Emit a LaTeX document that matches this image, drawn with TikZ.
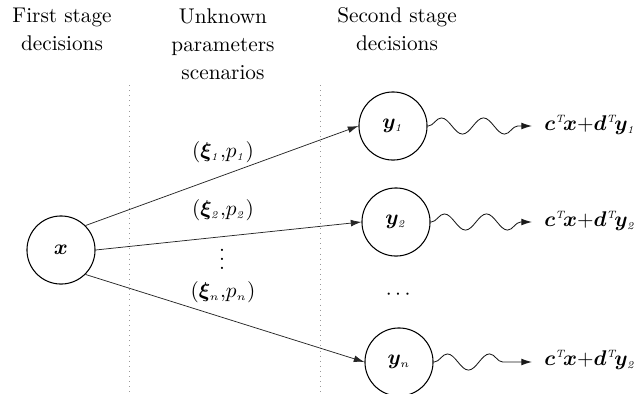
\documentclass[tikz,border=0pt]{standalone}
\usepackage{amsmath,bm}
\usetikzlibrary{decorations.pathmorphing,arrows.meta}
\newcommand{\outc}[1]{$\bm{c}^{\scriptscriptstyle\mathit{T}}\!\bm{x}{+}\bm{d}^{\scriptscriptstyle\mathit{T}}\!\bm{y}_{\scriptscriptstyle\mathit{#1}}$}
\begin{document}
\begin{tikzpicture}[x=0.47pt,y=-0.47pt,
  state/.style={circle,draw,line width=0.5pt,minimum size=32pt,inner sep=0pt},
  head/.style={align=center,font=\fontsize{10}{13.2}\selectfont},
  sepline/.style={draw=gray!80,dotted,line width=0.4pt},
  conn/.style={draw=black!85,line width=0.35pt,-{Latex[length=5pt,width=3.2pt]}},
  wave/.style={draw=black!90,line width=0.4pt,decorate,
    decoration={snake,amplitude=3.8pt,segment length=19.8pt,pre length=0.3pt,post length=4pt},
    -{Latex[length=5pt,width=3.2pt]}},
  lab/.style={inner sep=0pt},
  outlab/.style={anchor=west,inner sep=0pt}]
\useasboundingbox (0,0) rectangle (634,394);
% headers
\node[head] (h1) at (62,29) {First stage\\decisions};
\node[head] (h2) at (223,44) {Unknown\\parameters\\scenarios};
\node[head] (h3) at (397,29) {Second stage\\decisions};
% separators
\coordinate (s1t) at (129,85); \coordinate (s1b) at (129,394);
\coordinate (s2t) at (320,85); \coordinate (s2b) at (320,394);
\draw[sepline] (s1t) -- (s1b);
\draw[sepline] (s2t) -- (s2b);
% nodes
\node[state] (x) at (61,250) {$\bm{x}$};
\node[state] (y1) at (393,126) {$\bm{y}_{\scriptscriptstyle\mathit{1}}$};
\node[state] (y2) at (396,222) {$\bm{y}_{\scriptscriptstyle\mathit{2}}$};
\node[state] (yn) at (399,362) {$\bm{y}_{\scriptscriptstyle n}$};
\node (dots) at (400,295) {$\cdots$};
% scenario labels
\node[lab] (l1) at (223,152) {$(\bm{\xi}_{\scriptscriptstyle\mathit{1}}{,}p_{\scriptscriptstyle\mathit{1}})$};
\node[lab] (l2) at (223,210) {$(\bm{\xi}_{\scriptscriptstyle\mathit{2}}{,}p_{\scriptscriptstyle\mathit{2}})$};
\node[lab] (lv) at (222,269) {$\smash{\vdots}$};
\node[lab] (ln) at (223,292) {$(\bm{\xi}_{\scriptscriptstyle n}{,}p_{\scriptscriptstyle n})$};
% connectors
\draw[conn] (x.north east) -- (y1.west);
\draw[conn] (x.east) -- (y2.west);
\draw[conn] (x.south east) -- (yn.west);
% outcomes
\coordinate (e1) at (532,126);
\coordinate (e2) at (532,222);
\coordinate (en) at (532,362);
\draw[wave] (y1.east) -- (e1);
\draw[wave] (y2.east) -- (e2);
\draw[wave] (yn.east) -- (en);
\node[outlab] (o1) at (544,125) {\outc{1}};
\node[outlab] (o2) at (544,221) {\outc{2}};
\node[outlab] (on) at (544,360) {\outc{2}};
\end{tikzpicture}
\end{document}
